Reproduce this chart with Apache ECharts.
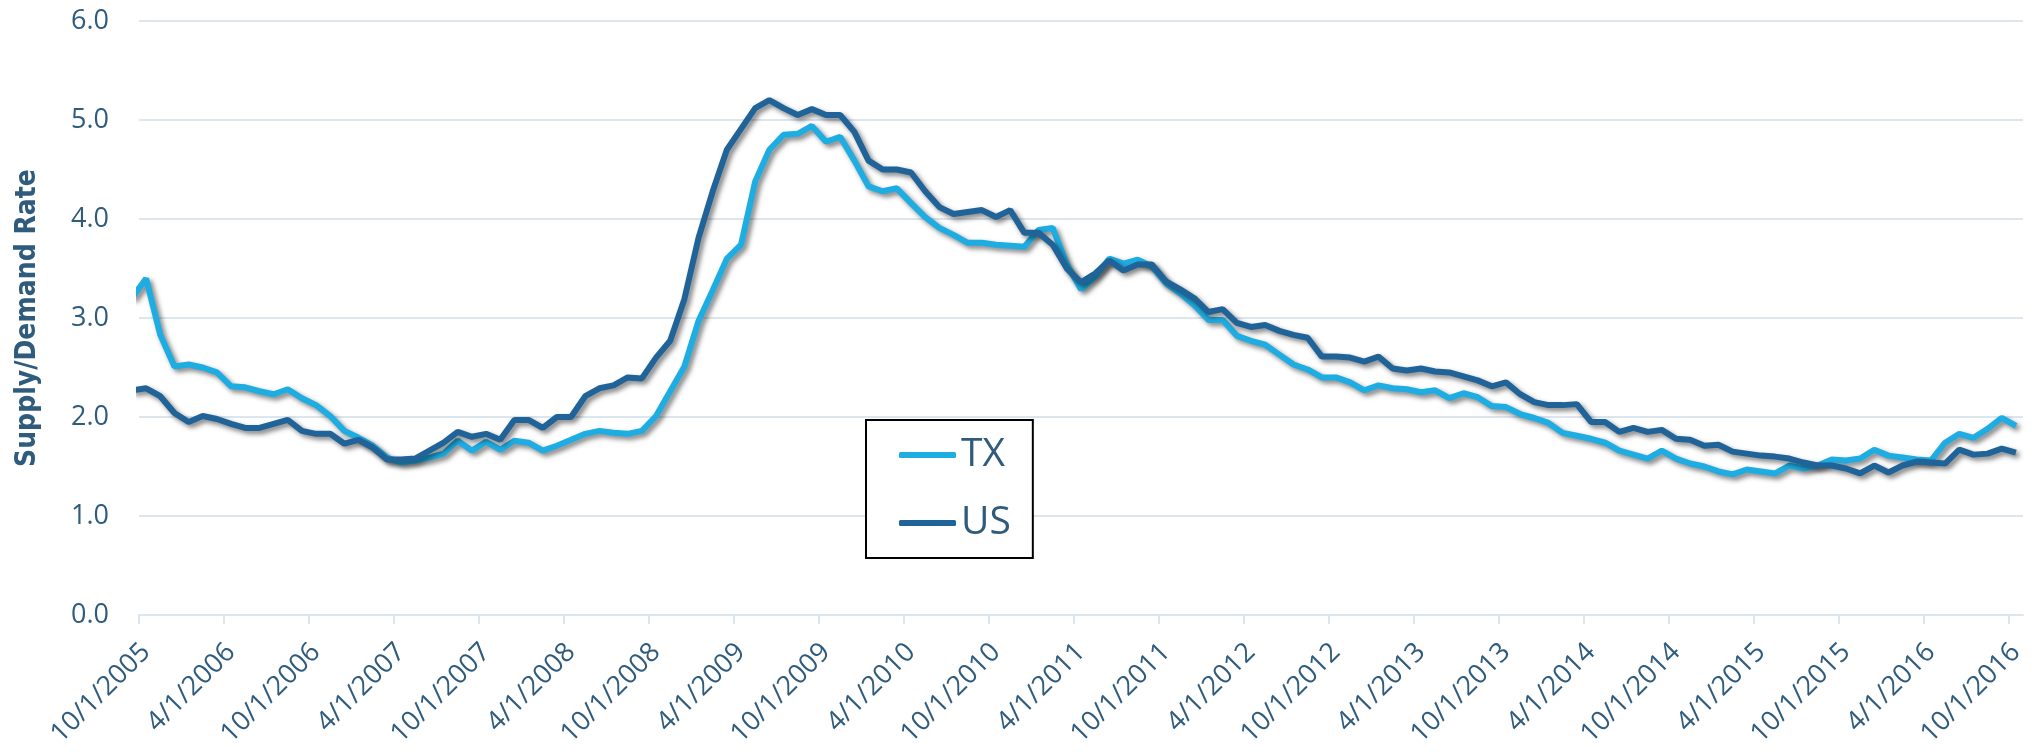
<!DOCTYPE html>
<html lang="en">
<head>
    <meta charset="UTF-8">
    <title>Supply/Demand Rate - TX vs US</title>
    <style>
        body{ margin:0; background:#fff; }
        #main{ width:2033px; height:756px; }
    </style>
    <script src="https://cdn.jsdelivr.net/npm/echarts@6/dist/echarts.min.js"></script>
</head>
<body>
<div id="main"></div>
<script type="text/javascript">

    // monthly values, first one is 9/1/2005 (only partly visible), last is 10/1/2016
    var tx = [3.20, 3.40, 2.83, 2.51, 2.53, 2.50, 2.45, 2.31, 2.30, 2.26, 2.23, 2.28, 2.19, 2.12, 2.01, 1.86,
        1.79, 1.71, 1.59, 1.54, 1.56, 1.59, 1.63, 1.76, 1.66, 1.75, 1.67, 1.76, 1.74, 1.66, 1.71, 1.77,
        1.83, 1.86, 1.84, 1.83, 1.86, 2.01, 2.26, 2.51, 2.97, 3.28, 3.60, 3.74, 4.38, 4.70, 4.85, 4.86,
        4.94, 4.78, 4.83, 4.59, 4.33, 4.28, 4.31, 4.16, 4.02, 3.91, 3.84, 3.76, 3.76, 3.74, 3.73, 3.72,
        3.89, 3.91, 3.54, 3.29, 3.42, 3.60, 3.55, 3.59, 3.52, 3.35, 3.25, 3.13, 2.98, 2.98, 2.82, 2.77,
        2.73, 2.63, 2.53, 2.48, 2.40, 2.40, 2.35, 2.27, 2.32, 2.29, 2.28, 2.25, 2.27, 2.19, 2.24, 2.20,
        2.11, 2.10, 2.03, 1.99, 1.94, 1.84, 1.81, 1.78, 1.74, 1.66, 1.62, 1.58, 1.66, 1.58, 1.53, 1.50,
        1.45, 1.42, 1.47, 1.45, 1.43, 1.51, 1.48, 1.51, 1.57, 1.56, 1.58, 1.67, 1.61, 1.59, 1.57, 1.56,
        1.74, 1.83, 1.79, 1.88, 1.99, 1.91];

    var us = [2.27, 2.29, 2.21, 2.04, 1.95, 2.01, 1.98, 1.93, 1.89, 1.89, 1.93, 1.97, 1.86, 1.83, 1.83, 1.73,
        1.77, 1.69, 1.57, 1.57, 1.58, 1.66, 1.74, 1.85, 1.80, 1.83, 1.77, 1.97, 1.97, 1.89, 2.00, 2.00,
        2.21, 2.29, 2.32, 2.40, 2.39, 2.60, 2.77, 3.19, 3.81, 4.28, 4.70, 4.91, 5.12, 5.20, 5.12, 5.05,
        5.11, 5.05, 5.05, 4.88, 4.59, 4.50, 4.50, 4.47, 4.28, 4.12, 4.05, 4.07, 4.09, 4.02, 4.09, 3.86,
        3.86, 3.74, 3.50, 3.36, 3.45, 3.58, 3.48, 3.54, 3.54, 3.37, 3.29, 3.20, 3.06, 3.09, 2.95, 2.91,
        2.93, 2.87, 2.83, 2.80, 2.61, 2.61, 2.60, 2.56, 2.61, 2.49, 2.47, 2.49, 2.46, 2.45, 2.41, 2.37,
        2.31, 2.35, 2.23, 2.15, 2.12, 2.12, 2.13, 1.95, 1.95, 1.85, 1.89, 1.85, 1.87, 1.78, 1.77, 1.71,
        1.72, 1.65, 1.63, 1.61, 1.60, 1.58, 1.54, 1.51, 1.51, 1.48, 1.43, 1.51, 1.44, 1.51, 1.55, 1.54,
        1.53, 1.67, 1.62, 1.63, 1.68, 1.64];

    // tick labels, one every 6 months
    var tickLabels = ['10/1/2005', '4/1/2006', '10/1/2006', '4/1/2007', '10/1/2007', '4/1/2008',
        '10/1/2008', '4/1/2009', '10/1/2009', '4/1/2010', '10/1/2010', '4/1/2011', '10/1/2011',
        '4/1/2012', '10/1/2012', '4/1/2013', '10/1/2013', '4/1/2014', '10/1/2014', '4/1/2015',
        '10/1/2015', '4/1/2016', '10/1/2016'];

    var textColor = '#2F5B7C';
    var gridColor = '#DCE6EE';

    // x axis counts months from 10/1/2005, each point sits in the middle of its month
    function toPoints(arr){
        return arr.map(function (v, j) { return [j - 0.5, v]; });
    }
    var tickValues = tickLabels.map(function (s, k) { return k * 6; });

    var shadow = {
        shadowColor: 'rgba(0,0,0,0.5)',
        shadowBlur: 5,
        shadowOffsetX: 3,
        shadowOffsetY: 3
    };

    var myChart = echarts.init(document.getElementById('main'));
    var option = {
        animation: false,
        grid: { left: 139, right: 10, top: 21, bottom: 141 },
        legend: {
            orient: 'vertical',
            left: 866,
            top: 420,
            padding: [15, 22, 15, 33],
            backgroundColor: '#fff',
            borderColor: '#000',
            borderWidth: 2,
            icon: 'roundRect',
            itemWidth: 57,
            itemHeight: 6,
            itemGap: 28,
            itemTextGap: 3,
            textStyle: { fontFamily: 'Open Sans', fontSize: 39, color: textColor, lineHeight: 40 },
            data: ['TX', 'US']
        },
        xAxis: {
            type: 'value',
            min: 0,
            max: 133,
            interval: 6,
            splitLine: { show: false },
            axisLine: { lineStyle: { color: gridColor, width: 2 } },
            axisTick: { customValues: tickValues, length: 9, lineStyle: { color: gridColor, width: 2 } },
            axisLabel: {
                customValues: tickValues,
                rotate: 45,
                margin: 40,
                padding: [0, -10, 0, 0],
                fontFamily: 'Open Sans',
                fontSize: 27,
                color: textColor,
                formatter: function (val) { return tickLabels[Math.round(val / 6)]; }
            }
        },
        yAxis: {
            type: 'value',
            min: 0,
            max: 6,
            interval: 1,
            name: 'Supply/Demand Rate',
            nameLocation: 'middle',
            nameGap: 97,
            nameTextStyle: {
                fontFamily: "'DejaVu Sans Condensed', 'Liberation Sans', sans-serif",
                fontWeight: 'bold',
                fontSize: 28,
                color: textColor
            },
            axisLine: { show: false },
            axisTick: { show: false },
            splitLine: { lineStyle: { color: gridColor, width: 2 } },
            axisLabel: {
                margin: 30,
                fontFamily: 'Open Sans',
                fontSize: 27,
                color: textColor,
                formatter: function (v) { return v.toFixed(1); }
            }
        },
        series: [{
            name: 'TX',
            type: 'line',
            showSymbol: false,
            symbol: 'none',
            clip: true,
            itemStyle: { color: '#1EADE3' },
            lineStyle: Object.assign({ color: '#1EADE3', width: 6 }, shadow),
            data: toPoints(tx)
        }, {
            name: 'US',
            type: 'line',
            showSymbol: false,
            symbol: 'none',
            clip: true,
            itemStyle: { color: '#1F6398' },
            lineStyle: Object.assign({ color: '#1F6398', width: 6 }, shadow),
            data: toPoints(us)
        }]
    };

    myChart.setOption(option);

</script>
</body>
</html>
